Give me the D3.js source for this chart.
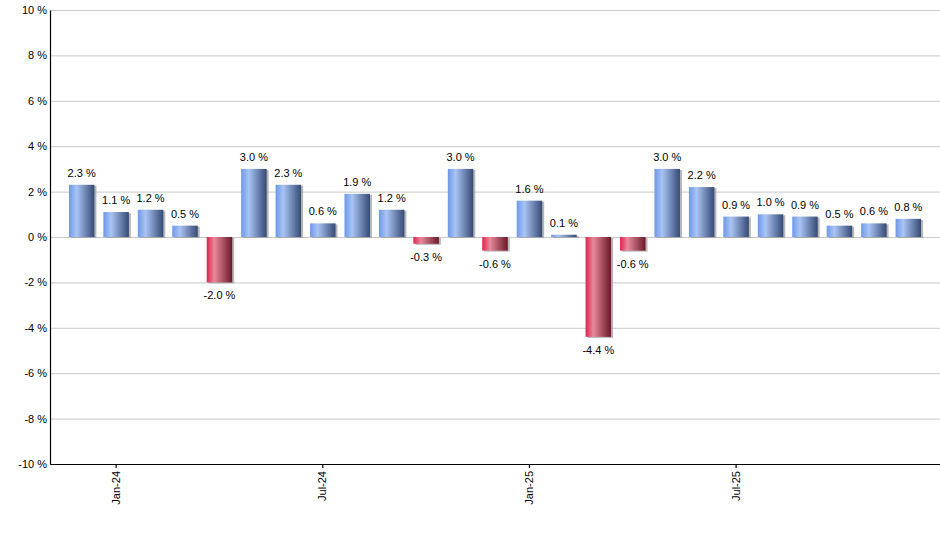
<!DOCTYPE html>
<html>
<head>
<meta charset="utf-8">
<script src="https://cdn.jsdelivr.net/npm/d3@7"></script>
<style>
  body { margin: 0; background: #fff; }
  text { font-family: "Liberation Sans", Arial, sans-serif; }
</style>
</head>
<body>
<div id="plot"></div>
<script>
// monthly values, Dec-23 .. Dec-25
var months = ["Dec-23", "Jan-24", "Feb-24", "Mar-24", "Apr-24", "May-24", "Jun-24",
              "Jul-24", "Aug-24", "Sep-24", "Oct-24", "Nov-24", "Dec-24",
              "Jan-25", "Feb-25", "Mar-25", "Apr-25", "May-25", "Jun-25",
              "Jul-25", "Aug-25", "Sep-25", "Oct-25", "Nov-25", "Dec-25"];
var values = [2.3, 1.1, 1.2, 0.5, -2.0, 3.0, 2.3, 0.6, 1.9, 1.2, -0.3, 3.0, -0.6,
              1.6, 0.1, -4.4, -0.6, 3.0, 2.2, 0.9, 1.0, 0.9, 0.5, 0.6, 0.8];
var tickMonths = ["Jan-24", "Jul-24", "Jan-25", "Jul-25"];
var yTicks = [-10, -8, -6, -4, -2, 0, 2, 4, 6, 8, 10];

var margin = {top: 10, right: 0, bottom: 86, left: 50},
    width = 940 - margin.left - margin.right,
    height = 550 - margin.top - margin.bottom;

var svg = d3.select("div#plot")
  .append("svg")
    .attr("width", 940)
    .attr("height", 550)
  .append("g")
    .attr("transform", "translate(" + margin.left + "," + margin.top + ")");

var defs = svg.append("defs");
function grad(id, c0, c1, c2) {
  var g = defs.append("linearGradient").attr("id", id)
    .attr("x1", "0%").attr("x2", "100%").attr("y1", "0%").attr("y2", "0%");
  g.append("stop").attr("offset", "0%").attr("stop-color", c0);
  g.append("stop").attr("offset", "30%").attr("stop-color", c1);
  g.append("stop").attr("offset", "100%").attr("stop-color", c2);
}
grad("gradPos", "#6d98e8", "#a9c4f4", "#364a74");
grad("gradNeg", "#e0234c", "#e7899b", "#6a1828");

var x = d3.scaleBand()
  .domain(months)
  .range([0, width])
  .paddingInner(0.26)
  .paddingOuter(0.55);

var y = d3.scaleLinear()
  .domain([-10, 10])
  .range([height, 0]);

// grid
svg.append("g")
  .selectAll("line")
  .data(yTicks)
  .enter()
  .append("line")
    .attr("x1", 0)
    .attr("x2", width)
    .attr("y1", d => y(d) + 0.5)
    .attr("y2", d => y(d) + 0.5)
    .style("stroke", "#c8c8c8")
    .style("stroke-width", 1);

var data = months.map((m, i) => ({month: m, value: values[i]}));

// shadows
svg.append("g")
  .selectAll("rect")
  .data(data)
  .enter()
  .append("rect")
    .attr("x", d => x(d.month) + 2)
    .attr("y", d => y(Math.max(0, d.value)) + 1)
    .attr("width", x.bandwidth())
    .attr("height", d => Math.abs(y(d.value) - y(0)))
    .style("fill", "#999")
    .style("opacity", 0.7);

svg.append("g")
  .selectAll("rect")
  .data(data)
  .enter()
  .append("rect")
    .attr("x", d => x(d.month))
    .attr("y", d => y(Math.max(0, d.value)))
    .attr("width", x.bandwidth())
    .attr("height", d => Math.abs(y(d.value) - y(0)))
    .style("fill", d => d.value < 0 ? "url(#gradNeg)" : "url(#gradPos)");

// value labels
svg.append("g")
  .selectAll("text")
  .data(data)
  .enter()
  .append("text")
    .attr("x", d => x(d.month) + x.bandwidth() / 2)
    .attr("y", d => d.value < 0 ? y(d.value) + 17 : y(d.value) - 8)
    .attr("text-anchor", "middle")
    .style("font-size", "11px")
    .style("fill", "#000")
    .text(d => d.value.toFixed(1) + " %");

// y axis
var yAxis = svg.append("g")
  .call(d3.axisLeft(y).tickValues(yTicks).tickSize(0).tickPadding(3)
    .tickFormat(d => d + " %"));
yAxis.select(".domain").attr("stroke", "#000").attr("stroke-width", 1.2);
yAxis.selectAll("text").style("font-size", "11px").style("fill", "#000")
  .style("font-family", "'Liberation Sans', Arial, sans-serif");

// x axis
var xAxis = svg.append("g")
  .attr("transform", "translate(0," + height + ")")
  .call(d3.axisBottom(x).tickValues(tickMonths).tickSize(4).tickSizeOuter(0));
xAxis.select(".domain").attr("stroke", "#000").attr("stroke-width", 1.2);
xAxis.selectAll(".tick line").attr("stroke", "#000").attr("stroke-width", 1.2);
xAxis.selectAll("text")
  .style("font-size", "11px")
  .style("fill", "#000")
  .style("font-family", "'Liberation Sans', Arial, sans-serif")
  .attr("transform", "rotate(-90)")
  .attr("text-anchor", "end")
  .attr("x", -7)
  .attr("y", 0)
  .attr("dy", "0.32em");
</script>
</body>
</html>
